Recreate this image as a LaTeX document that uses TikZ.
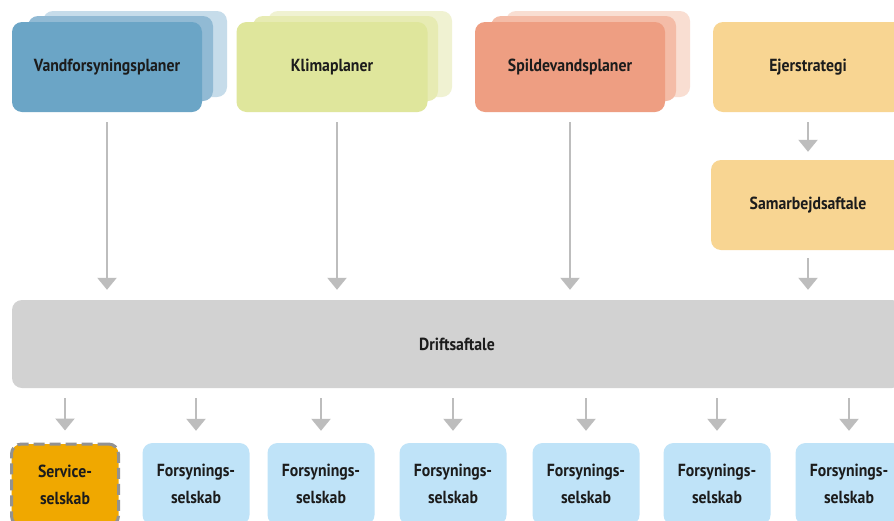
\documentclass[tikz,border=0pt]{standalone}
\usepackage{fontspec}
\setmainfont{PT Sans}[FakeStretch=0.9]
\usetikzlibrary{arrows.meta}
\definecolor{blueA}{HTML}{6BA5C6}
\definecolor{blueB}{HTML}{91BAD4}
\definecolor{blueC}{HTML}{C6DCEA}
\definecolor{greenA}{HTML}{DFE69C}
\definecolor{greenB}{HTML}{E7EBB3}
\definecolor{greenC}{HTML}{F0F2D2}
\definecolor{redA}{HTML}{EE9E82}
\definecolor{redB}{HTML}{F4BCA7}
\definecolor{redC}{HTML}{F9DED2}
\definecolor{ejer}{HTML}{F8D592}
\definecolor{drift}{HTML}{D2D2D2}
\definecolor{lblue}{HTML}{BFE3F8}
\definecolor{serv}{HTML}{F0A800}
\definecolor{dashc}{HTML}{929292}
\definecolor{arr}{HTML}{BDBDBD}
\definecolor{txt}{HTML}{1C1C1C}
\tikzset{
  box/.style={rounded corners=10pt, inner sep=0pt, text=txt, font=\bfseries\fontsize{17.5}{19}\selectfont, align=center},
  layer/.style={rounded corners=10pt},
  conn/.style={draw=arr, line width=2.2pt, -{Triangle[width=19pt,length=12pt]}},
  small/.style={box, minimum width=107pt, minimum height=82pt, font=\bfseries\fontsize{17.5}{27}\selectfont}
}
\begin{document}
\begin{tikzpicture}[x=1pt,y=-1pt]
\clip (0,0) rectangle (894,520);
\fill[white] (0,0) rectangle (894,520);
% stacked layers
\fill[layer, blueC] (43,11) rectangle (227,97);
\fill[layer, blueB] (28,16) rectangle (213,101);
\fill[layer, greenC] (268,11) rectangle (452,97);
\fill[layer, greenB] (253,16) rectangle (438,101);
\fill[layer, redC] (506,11) rectangle (690,97);
\fill[layer, redB] (491,16) rectangle (676,101);
% top nodes
\node[box, fill=blueA, minimum width=190pt, minimum height=90pt] (vand) at (107,67) {Vandforsyningsplaner};
\node[box, fill=greenA, minimum width=191pt, minimum height=90pt] (klima) at (332,67) {Klimaplaner};
\node[box, fill=redA, minimum width=190pt, minimum height=90pt] (spilde) at (570,67) {Spildevandsplaner};
\node[box, fill=ejer, minimum width=190pt, minimum height=90pt] (ejer) at (808,67) {Ejerstrategi};
\node[box, fill=ejer, minimum width=194pt, minimum height=90pt] (samar) at (808,205) {Samarbejdsaftale};
\node[box, fill=drift, minimum width=890pt, minimum height=88pt] (drift) at (457,344) {Driftsaftale};
% bottom nodes
\node[small, fill=serv, draw=dashc, dash pattern=on 11pt off 5pt, line width=3pt] (s0) at (65,485) {Service-\\selskab};
\node[small, fill=lblue] (s1) at (196,484) {Forsynings-\\selskab};
\node[small, fill=lblue] (s2) at (321,484) {Forsynings-\\selskab};
\node[small, fill=lblue] (s3) at (453,484) {Forsynings-\\selskab};
\node[small, fill=lblue] (s4) at (586,484) {Forsynings-\\selskab};
\node[small, fill=lblue] (s5) at (717,484) {Forsynings-\\selskab};
\node[small, fill=lblue] (s6) at (849,484) {Forsynings-\\selskab};
% connectors
\draw[conn, shorten <=10pt, shorten >=10pt] (vand.south) -- (drift.north -| vand.south);
\draw[conn, shorten <=10pt, shorten >=10pt] ([xshift=5pt]klima.south) -- ([xshift=5pt]drift.north -| klima.south);
\draw[conn, shorten <=10pt, shorten >=10pt] (spilde.south) -- (drift.north -| spilde.south);
\draw[conn, shorten <=10pt, shorten >=8pt] (ejer.south) -- (samar.north);
\draw[conn, shorten <=8pt, shorten >=10pt] (samar.south) -- (drift.north -| samar.south);
\foreach \i in {0,...,6}{
  \draw[conn, shorten <=10pt, shorten >=12pt] (drift.south -| s\i.north) -- (s\i.north);
}
\end{tikzpicture}
\end{document}
